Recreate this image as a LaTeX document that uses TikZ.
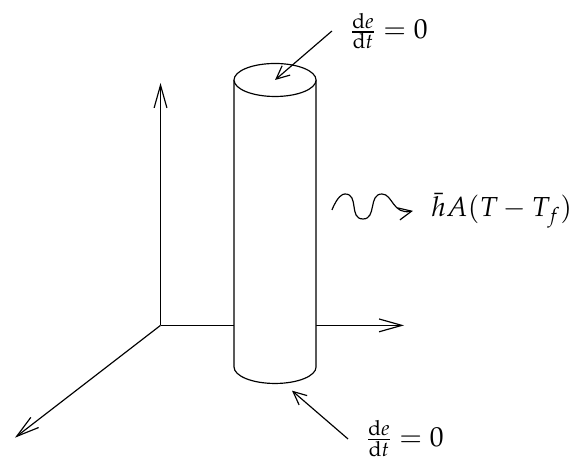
\documentclass[tikz,border=0pt]{standalone}
\usepackage{amsmath}
\usepackage{mathpazo}
\usetikzlibrary{arrows.meta}
\DeclareMathSizes{16.5}{16.5}{12.5}{9}
\tikzset{
  axisline/.style={-{Straight Barb[length=4.8mm,width=2.7mm]},line width=0.7pt},
  fluxarrow/.style={axisline,-{Straight Barb[length=2.8mm,width=2.6mm]}},
  cylbody/.style={draw,fill=white,line width=0.7pt},
  fluxlabel/.style={inner sep=3.8mm,font=\fontsize{16.5}{19}\selectfont},
}

\begin{document}
\begin{tikzpicture}
  \useasboundingbox (0,0) rectangle (12.147,9.637);
  % axes
  \coordinate (nOrigin) at (3.385,2.775);
  \coordinate (nUp) at (3.385,7.887);
  \coordinate (nRight) at (8.52,2.775);
  \coordinate (nFront) at (0.316,0.407);
  \draw[axisline] (nOrigin) -- (nUp);
  \draw[axisline] (nOrigin) -- (nRight);
  \draw[axisline] (nOrigin) -- (nFront);
  % cylinder
  \draw[cylbody] (4.935,7.95) -- (4.935,1.898) arc[start angle=180,end angle=360,x radius=0.865,y radius=0.348] -- (6.664,7.95);
  \draw[cylbody] (5.80,7.95) ellipse[x radius=0.865,y radius=0.348];
  \coordinate (nTopEnd) at (5.80,7.95);
  \coordinate (nBotEnd) at (6.158,1.398);
  % boundary conditions
  \node[fluxlabel,anchor=west] (nTopFlux) at (7.00,8.983) {$\frac{\mathrm{d}e}{\mathrm{d}t}=0$};
  \node[fluxlabel,anchor=west] (nBotFlux) at (7.339,0.38) {$\frac{\mathrm{d}e}{\mathrm{d}t}=0$};
  \node[fluxlabel,anchor=west] (nConv) at (8.709,5.19) {$\bar{h}A(T-T_f)$};
  \draw[fluxarrow] (nTopFlux.west) -- (nTopEnd);
  \draw[fluxarrow] (nBotFlux.west) -- (nBotEnd);
  \coordinate (nWave) at (7.00,5.209);
  \draw[fluxarrow] (nWave) .. controls (7.12,5.50) and (7.22,5.546) .. (7.275,5.546)
    .. controls (7.58,5.546) and (7.35,5.019) .. (7.655,5.019)
    .. controls (7.95,5.019) and (7.76,5.546) .. (8.056,5.546)
    .. controls (8.28,5.546) and (8.28,5.10) .. (nConv.west);
\end{tikzpicture}
\end{document}
